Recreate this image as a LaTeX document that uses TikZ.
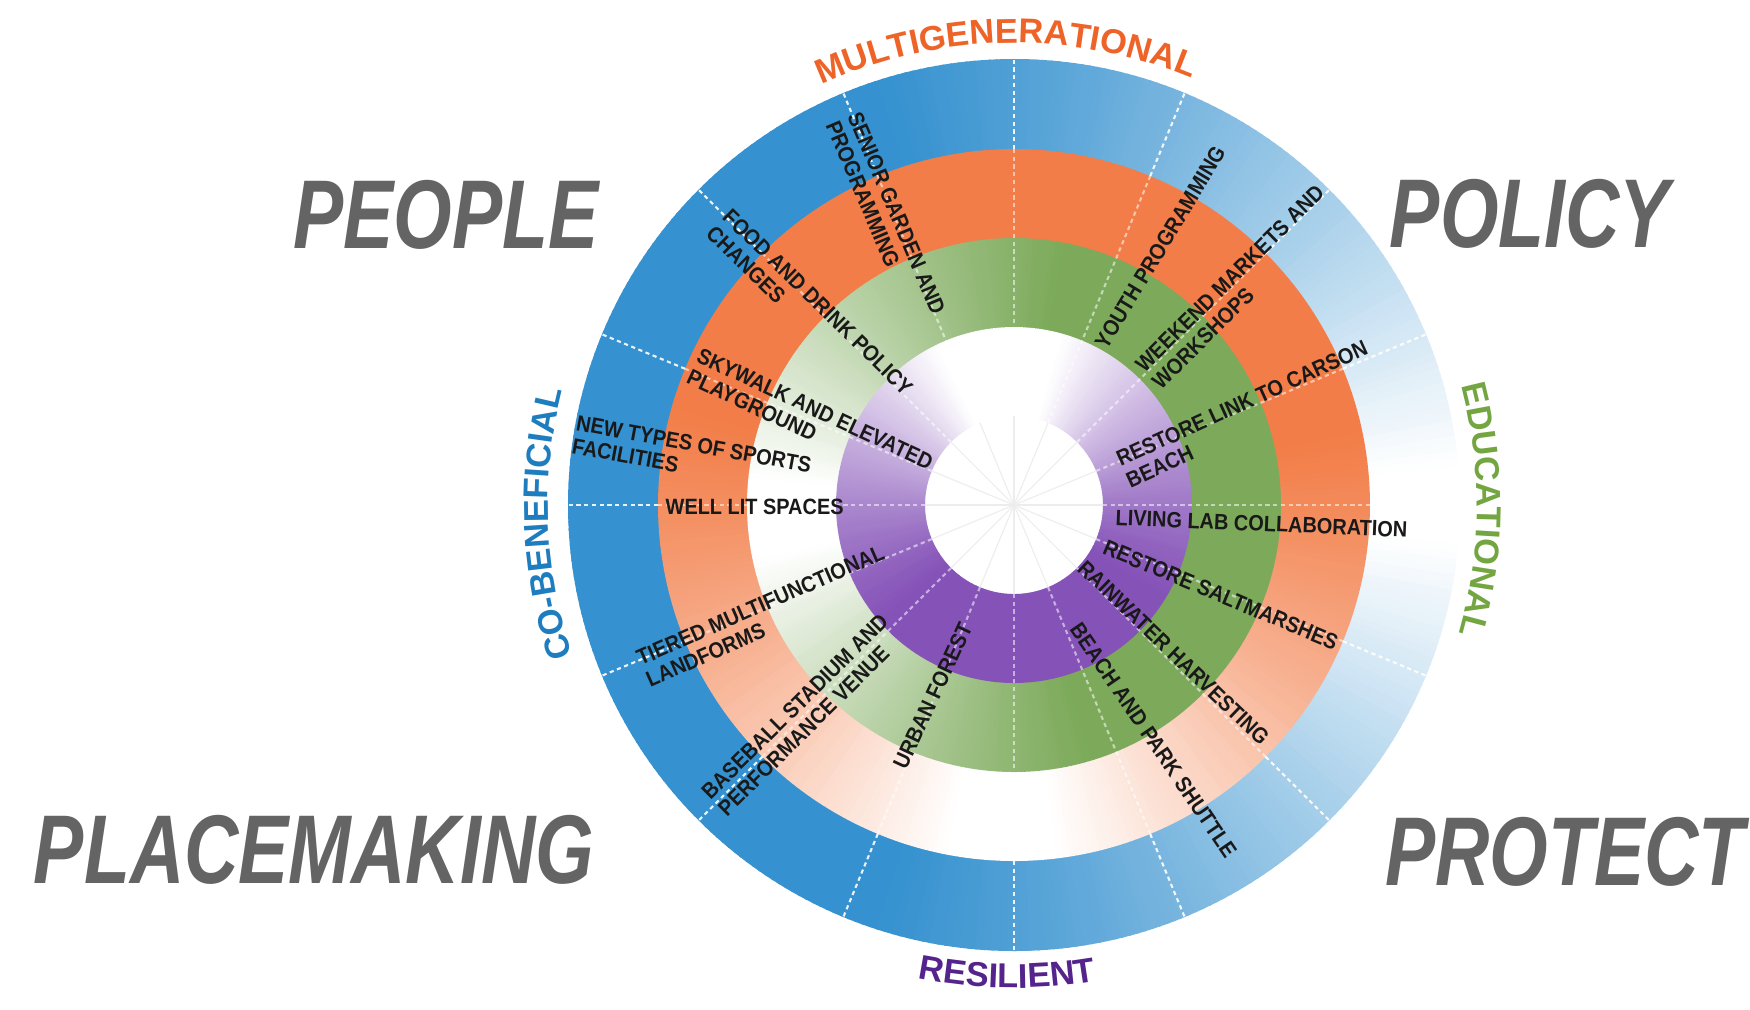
\documentclass[tikz,border=0pt]{standalone}
\usepackage{fontspec}
\setmainfont{Liberation Sans}
\newfontfamily\bigfont[FakeStretch=0.77]{Liberation Sans}
\newfontfamily\lblfont[FakeStretch=0.9]{Liberation Sans}
\newcommand\ringtitlefont{\bfseries\fontsize{9.8}{11}\selectfont}
\usetikzlibrary{decorations.text}

\definecolor{ringBlue}{RGB}{53,145,207}
\definecolor{ringOrange}{RGB}{242,125,72}
\definecolor{ringGreen}{RGB}{124,170,90}
\definecolor{ringPurple}{RGB}{133,82,184}
\definecolor{titleOrange}{RGB}{238,100,40}
\definecolor{titleBlue}{RGB}{30,125,190}
\definecolor{titleGreen}{RGB}{115,165,65}
\definecolor{titlePurple}{RGB}{85,35,140}
\definecolor{bigGray}{RGB}{100,100,100}
\definecolor{lblGray}{RGB}{25,25,25}

\tikzset{
  lbl/.style={font=\lblfont\bfseries\fontsize{6.3}{6.7}\selectfont, text=lblGray, inner sep=0pt, align=left, anchor=west},
  bigword/.style={font=\bigfont\bfseries\itshape\fontsize{27.8}{30}\selectfont, text=bigGray, inner sep=0pt},
  spoke/.style={white, line width=0.6pt, dash pattern=on 1.2pt off 1pt, opacity=0.9},
  innerspoke/.style={spoke, opacity=0.55},
  ringword/.style={decorate, decoration={text along path, text align=center, text color=#1}}
}

\begin{document}
\begin{tikzpicture}
\useasboundingbox (-10.14,-5.04) rectangle (7.36,5.05);
\fill[white] (-10.14,-5.04) rectangle (7.36,5.05);

% rings, faded towards white one wedge at a time
\foreach \a in {0,...,359} {
  \pgfmathtruncatemacro\pb{max(0,min(100,130*abs(sin((\a+0.5)/2))-5))}
  \pgfmathtruncatemacro\po{max(0,min(100,140*abs(sin((\a+0.5-268)/2))-10))}
  \pgfmathtruncatemacro\pg{max(0,min(100,140*abs(sin((\a+0.5-183)/2))-10))}
  \pgfmathtruncatemacro\pp{max(0,min(100,140*abs(sin((\a+0.5-95)/2))-25))}
  \fill[ringBlue!\pb!white] (\a:3.555) arc[start angle=\a, end angle=\a+1.3, radius=3.555] -- (\a+1.3:4.46) arc[start angle=\a+1.3, end angle=\a, radius=4.46] -- cycle;
  \fill[ringOrange!\po!white] (\a:2.665) arc[start angle=\a, end angle=\a+1.3, radius=2.665] -- (\a+1.3:3.56) arc[start angle=\a+1.3, end angle=\a, radius=3.56] -- cycle;
  \fill[ringGreen!\pg!white] (\a:1.775) arc[start angle=\a, end angle=\a+1.3, radius=1.775] -- (\a+1.3:2.67) arc[start angle=\a+1.3, end angle=\a, radius=2.67] -- cycle;
  \fill[ringPurple!\pp!white] (\a:0.89) arc[start angle=\a, end angle=\a+1.3, radius=0.89] -- (\a+1.3:1.78) arc[start angle=\a+1.3, end angle=\a, radius=1.78] -- cycle;
}

\foreach \t in {0,22.5,...,337.5} {
  \draw[black!7, line width=0.3pt] (0,0) -- (\t:0.89);
  \draw[innerspoke] (\t:0.89) -- (\t:3.56);
  \draw[spoke] (\t:3.56) -- (\t:4.46);
}

\path[ringword=titleOrange, decoration={text={|\ringtitlefont|MULTIGENERATIONAL}}] (121:4.62) arc[start angle=121, end angle=61, radius=4.62];
\path[ringword=titlePurple, decoration={text={|\ringtitlefont|RESILIENT}}] (249.2:4.83) arc[start angle=249.2, end angle=289.2, radius=4.83];
\path[ringword=titleBlue, decoration={text={|\ringtitlefont|CO-BENEFICIAL}}] (202.3:4.66) arc[start angle=202.3, end angle=162.3, radius=4.66];
\path[ringword=titleGreen, decoration={text={|\ringtitlefont|EDUCATIONAL}}] (19.4:4.63) arc[start angle=19.4, end angle=-20.6, radius=4.63];

\node[bigword] (people) at (-5.68,2.90) {PEOPLE};
\node[bigword] (policy) at (5.16,2.91) {POLICY};
\node[bigword] (placemaking) at (-7.00,-3.45) {PLACEMAKING};
\node[bigword] (protect) at (5.51,-3.47) {PROTECT};

\node[lbl, rotate=-67] (senior) at (-1.71,3.88) {SENIOR GARDEN AND\\PROGRAMMING};
\node[lbl, rotate=-44.3] (food) at (-2.96,2.84) {FOOD AND DRINK POLICY\\CHANGES};
\node[lbl, rotate=-25] (skywalk) at (-3.21,1.40) {SKYWALK AND ELEVATED\\PLAYGROUND};
\node[lbl, rotate=-10.4] (sports) at (-4.40,0.71) {NEW TYPES OF SPORTS\\FACILITIES};
\node[lbl] (welllit) at (-3.49,-0.015) {WELL LIT SPACES};
\node[lbl, rotate=23.7] (tiered) at (-3.72,-1.65) {TIERED MULTIFUNCTIONAL\\LANDFORMS};
\node[lbl, rotate=44.7] (baseball) at (-3.01,-2.99) {BASEBALL STADIUM AND\\PERFORMANCE VENUE};
\node[lbl, rotate=65] (urban) at (-1.15,-2.63) {URBAN FOREST};

\node[lbl, rotate=58.9] (youth) at (0.86,1.58) {YOUTH PROGRAMMING};
\node[lbl, rotate=44.7] (weekend) at (1.33,1.28) {WEEKEND MARKETS AND\\WORKSHOPS};
\node[lbl, rotate=24.5] (carson) at (1.08,0.34) {RESTORE LINK TO CARSON\\BEACH};
\node[lbl, rotate=-2.4] (livinglab) at (1.01,-0.125) {LIVING LAB COLLABORATION};
\node[lbl, rotate=-22.7] (saltmarsh) at (0.90,-0.41) {RESTORE SALTMARSHES};
\node[lbl, rotate=-43.8] (rainwater) at (0.67,-0.59) {RAINWATER HARVESTING};
\node[lbl, rotate=-55.7] (shuttle) at (0.61,-1.20) {BEACH AND PARK SHUTTLE};
\end{tikzpicture}
\end{document}
